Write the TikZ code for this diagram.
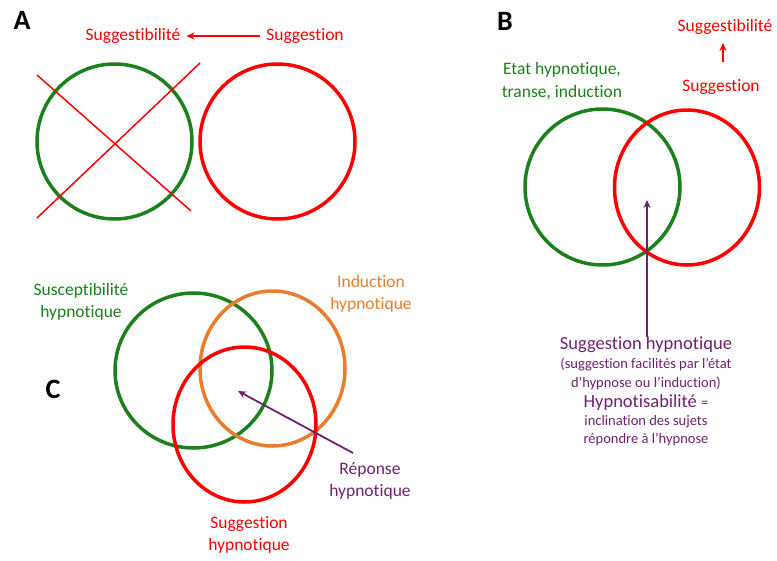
\documentclass[tikz,border=0pt]{standalone}
\usepackage{fontspec}
\setmainfont{Carlito}[Ligatures=CommonOff]
\usetikzlibrary{arrows.meta,positioning}
\definecolor{vert}{RGB}{28,128,28}
\definecolor{rouge}{RGB}{255,0,0}
\definecolor{orange}{RGB}{232,125,45}
\definecolor{violet}{RGB}{112,32,112}
\begin{document}
\begin{tikzpicture}[x=1pt, y=-1pt, >={Stealth[length=8pt,width=7pt]},
  lettre/.style={font=\fontsize{28}{32}\selectfont\bfseries},
  txt/.style={font=\fontsize{17.5}{22.5}\selectfont, align=center, inner sep=2pt},
  big/.style={font=\fontsize{18.5}{21}\selectfont, align=center, inner sep=1pt},
  small/.style={font=\fontsize{14.5}{18.5}\selectfont, align=center, inner sep=1pt},
  rond/.style={line width=3.5pt}]
\useasboundingbox (0,0) rectangle (777,560);
% A
\node[lettre] (lA) at (22,20) {A};
\node[txt, rouge] (sgtA) at (133,36) {Suggestibilité};
\node[txt, rouge] (sugA) at (305,36) {Suggestion};
\draw[->, rouge, line width=1.8pt, shorten >=4pt, shorten <=4pt] (sugA) -- (sgtA);
\draw[rond, vert] (114.5,141.5) circle (77.5);
\draw[rond, rouge] (277.5,141.5) circle (77.5);
\draw[rouge, line width=1.5pt] (37,75) -- (191,211);
\draw[rouge, line width=1.5pt] (200,63) -- (37,218);
% B
\node[lettre] (lB) at (505,21) {B};
\node[txt, rouge] (sgtB) at (725,27) {Suggestibilité};
\node[txt, rouge] (sugB) at (721,87) {Suggestion};
\coordinate (bas) at (723,62);
\coordinate (haut) at (723,43);
\draw[->, rouge, line width=1.8pt] (bas) -- (haut);
\node[txt, vert] (etat) at (562,81) {Etat hypnotique,\\transe, induction};
\draw[rond, vert] (602.5,187) ellipse (77.5 and 78);
\draw[rond, rouge] (687,187.5) ellipse (72.5 and 77.5);
\node[big, violet] (shB) at (646,345) {Suggestion hypnotique};
\node[small, violet, below=2.5pt of shB] (fac) {(suggestion facilités par l’état\\d’hypnose ou l’induction)};
\node[big, violet, below=2.5pt of fac] (hyp) {Hypnotisabilité {\fontsize{14.5}{18}\selectfont =}};
\node[small, violet, below=2.5pt of hyp] (incl) {inclination des sujets\\répondre à l’hypnose};
\coordinate (cB) at (647,200);
\coordinate (qB) at (647,337);
\draw[->, violet, line width=2.8pt] (qB) -- (cB);
% C
\node[lettre] (lC) at (53,389) {C};
\node[txt, vert] (susc) at (81,302) {Susceptibilité\\hypnotique};
\node[txt, orange] (ind) at (371,294) {Induction\\hypnotique};
\node[txt, violet] (rep) at (370,481) {Réponse\\hypnotique};
\node[txt, rouge] (shC) at (249,535) {Suggestion\\hypnotique};
\draw[rond, vert] (193.5,370.5) ellipse (78.5 and 77.5);
\draw[rond, orange] (272.5,368.5) ellipse (72.5 and 77.5);
\draw[rond, rouge] (244.5,424.5) ellipse (71.5 and 77.5);
\coordinate (cC) at (238,391);
\coordinate (qC) at (353,453);
\draw[->, violet, line width=1.8pt] (qC) -- (cC);
\end{tikzpicture}
\end{document}
